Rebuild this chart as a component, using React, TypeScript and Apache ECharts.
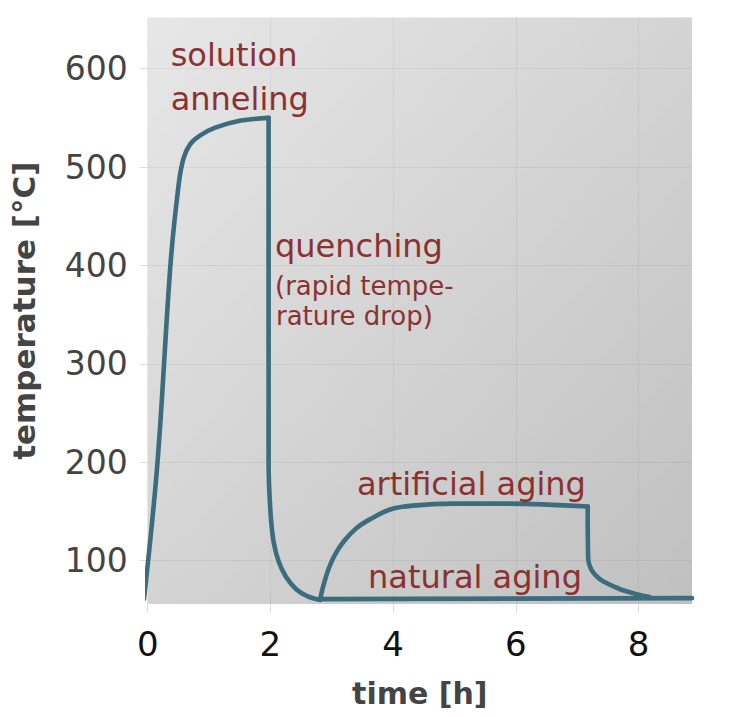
import React, { useEffect, useRef } from "react";
import * as echarts from "echarts";

// Heat-treatment temperature profile of an age-hardenable alloy
// [time in h, temperature in °C]; each stage is its own path so sharp corners stay sharp
const heatingRamp: [number, number][] = [
  [-0.06, 61], [0.16, 200], [0.37, 400], [0.5, 480], [0.58, 508],
  [0.69, 523], [0.85, 532], [1.1, 540], [1.5, 547], [1.97, 550],
];

const quenching: [number, number][] = [
  [1.97, 550], [1.97, 200], [2.0, 150], [2.05, 120], [2.13, 100],
  [2.25, 84], [2.42, 71], [2.6, 64], [2.81, 60],
];

const artificialAging: [number, number][] = [
  [2.81, 61], [2.86, 74], [2.95, 92], [3.05, 106], [3.2, 120],
  [3.4, 133], [3.62, 142], [3.95, 152], [4.32, 156], [4.98, 158],
  [5.79, 158], [7.17, 155],
];

const agingCooldown: [number, number][] = [
  [7.17, 155], [7.18, 101], [7.22, 92], [7.3, 85], [7.42, 79],
  [7.7, 71], [7.97, 66], [8.18, 63],
];

const naturalAging: [number, number][] = [
  [2.81, 61], [8.87, 62],
];

const xTicks = [0, 2, 4, 6, 8];
const yTicks = [100, 200, 300, 400, 500, 600];

const FONT = "DejaVu Sans";
const LINE_COLOR = "#3b6d7f";
const NOTE_COLOR = "#8c3131";

export default function App() {
  const ref = useRef<HTMLDivElement>(null);

  useEffect(() => {
    if (!ref.current) return;
    const chart = echarts.init(ref.current, undefined, { renderer: "svg" });

    const lineSeries = (name: string, data: [number, number][], smooth: number) => ({
      name,
      type: "line",
      data,
      smooth,
      showSymbol: false,
      clip: false,
      lineStyle: { color: LINE_COLOR, width: 4.6, cap: "round", join: "round" },
      z: 3,
    });

    const note = (text: string, x: number, y: number, size: number) => ({
      type: "text",
      x,
      y,
      z: 10,
      style: {
        text,
        fill: NOTE_COLOR,
        font: `${size}px "${FONT}"`,
        textAlign: "left",
        textVerticalAlign: "middle",
      },
    });

    chart.setOption({
      animation: false,
      grid: {
        left: 147.7,
        right: 46,
        top: 17.5,
        bottom: 113,
        show: true,
        borderWidth: 0,
        backgroundColor: new echarts.graphic.LinearGradient(0, 0, 1, 1, [
          { offset: 0, color: "#e7e7e7" },
          { offset: 1, color: "#c0c0c0" },
        ]),
      },
      xAxis: {
        type: "value",
        min: 0,
        max: 8.87,
        name: "time [h]",
        nameLocation: "middle",
        nameGap: 74,
        nameTextStyle: {
          fontFamily: FONT,
          fontSize: 30,
          fontWeight: "bold",
          color: "#444444",
        },
        axisLine: { show: false },
        axisTick: {
          show: true,
          length: 9,
          customValues: xTicks,
          lineStyle: { color: "#dcdcdc", width: 1 },
        },
        axisLabel: {
          customValues: xTicks,
          margin: 23,
          fontFamily: FONT,
          fontSize: 34,
          color: "#111111",
        },
        splitLine: { show: true, lineStyle: { color: "rgba(0,0,0,0.05)", width: 1 } },
      },
      yAxis: {
        type: "value",
        min: 56,
        max: 652,
        name: "temperature [°C]",
        nameLocation: "middle",
        nameGap: 108,
        nameRotate: 90,
        nameTextStyle: {
          fontFamily: FONT,
          fontSize: 31,
          fontWeight: "bold",
          color: "#444444",
        },
        axisLine: { show: false },
        axisTick: {
          show: true,
          length: 8,
          customValues: yTicks,
          lineStyle: { color: "#dcdcdc", width: 1 },
        },
        axisLabel: {
          customValues: yTicks,
          margin: 20,
          fontFamily: FONT,
          fontSize: 33,
          color: "#444444",
        },
        splitLine: { show: true, lineStyle: { color: "rgba(0,0,0,0.05)", width: 1 } },
      },
      series: [
        lineSeries("solution annealing", heatingRamp, 0.35),
        lineSeries("quenching", quenching, 0.3),
        lineSeries("artificial aging", artificialAging, 0.35),
        lineSeries("cooling after aging", agingCooldown, 0.3),
        lineSeries("natural aging", naturalAging, 0),
      ],
      graphic: [
        note("solution", 170.7, 55, 32),
        note("anneling", 170.7, 99, 32),
        note("quenching", 275, 246, 32),
        note("(rapid tempe-", 275, 286, 26),
        note("rature drop)", 276, 316, 26),
        note("artificial aging", 357, 484, 32),
        note("natural aging", 368, 577, 32),
      ],
    });

    return () => chart.dispose();
  }, []);

  return (
    <div
      ref={ref}
      style={{ position: "fixed", left: 0, top: 0, width: 738, height: 717, background: "#ffffff" }}
    />
  );
}
